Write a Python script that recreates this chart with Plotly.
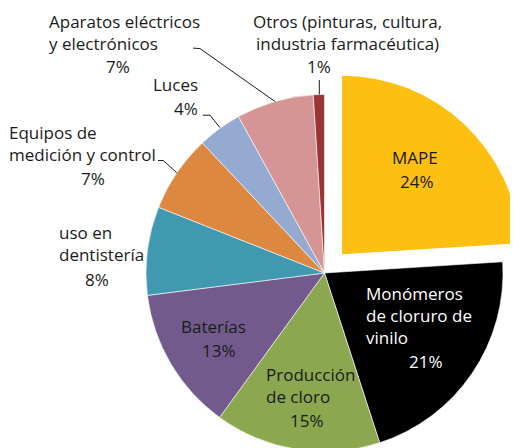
import plotly.graph_objects as go

# ---- data ----
categories = ["MAPE", "Monómeros de cloruro de vinilo", "Producción de cloro", "Baterías",
              "uso en dentistería", "Equipos de medición y control", "Luces",
              "Aparatos eléctricos y electrónicos",
              "Otros (pinturas, cultura, industria farmacéutica)"]
label_lines = [["MAPE"], ["Monómeros", "de cloruro de", "vinilo"], ["Producción", "de cloro"],
               ["Baterías"], ["uso en", "dentistería"], ["Equipos de", "medición y control"],
               ["Luces"], ["Aparatos eléctricos", "y electrónicos"],
               ["Otros (pinturas, cultura,", "industria farmacéutica)"]]
values = [24, 21, 15, 13, 8, 7, 4, 7, 1]
colors = ["#FCBF12", "#000000", "#8BA74F", "#735A8D", "#4099B0", "#DD8841",
          "#94AAD1", "#D69595", "#9B3434"]

W, H = 518, 448
OFF = 8          # page body margin of the viewer: work in window pixels
FONT = "Open Sans"
FS = 17
LINE = 1.3 * FS  # plotly line spacing inside one text
TXT = "#1a1a1a"


def px(x):
    return (x - OFF) / W


def py(y):
    return 1 - (y - OFF) / H


# geometry (window pixels)
cx, cy, r = 324.5, 273.0, 178.5
pcx, pcy = 342.0, 254.3  # centre of the exploded slice

transparent = "rgba(0,0,0,0)"
main_colors = [transparent] + colors[1:]
main_lines = [transparent] + ["white"] * (len(values) - 1)
expl_colors = [colors[0]] + [transparent] * (len(values) - 1)

fig = go.Figure()
fig.add_trace(go.Pie(
    labels=categories, values=values, sort=False, direction="clockwise", rotation=0,
    marker=dict(colors=main_colors, line=dict(color=main_lines, width=0.6)),
    textinfo="none", hoverinfo="skip", showlegend=False,
    domain=dict(x=[px(cx - r), px(cx + r)], y=[max(0, py(cy + r)), py(cy - r)]),
))
fig.add_trace(go.Pie(
    labels=categories, values=values, sort=False, direction="clockwise", rotation=0,
    marker=dict(colors=expl_colors, line=dict(width=0)),
    textinfo="none", hoverinfo="skip", showlegend=False,
    domain=dict(x=[px(pcx - r), min(1, px(pcx + r))], y=[py(pcy + r), py(pcy - r)]),
))

total = sum(values)
pct_text = [f"{round(v / total * 100)}%" for v in values]

# label placement: name x, name baseline (first line), anchor, pct x, pct baseline, colour
place = [
    (415.3, 164.0, "center", 417.0, 187.7, TXT),
    (364.3, 299.3, "left", 426.3, 367.3, "white"),
    (263.5, 381.0, "left", 306.7, 426.7, TXT),
    (213.8, 334.0, "center", 218.5, 356.0, TXT),
    (57.0, 238.3, "left", 97.0, 286.0, TXT),
    (7.0, 141.7, "left", 92.5, 182.7, TXT),
    (200.0, 93.3, "right", 200.0, 113.0, TXT),
    (46.5, 25.0, "left", 117.5, 65.0, TXT),
    (347.0, 24.3, "center", 319.0, 65.0, TXT),
]
ref_spacing = [0, 23.3, 22.3, 0, 23.4, 20.6, 0, 20.0, 20.7]
BASE = 6.5     # baseline sits this far below the middle of a line
GAP = 23.5     # minimum baseline gap so that text boxes do not overlap
TOPMIN = 27.5  # first baseline may not be higher than this (text box inside page)

annotations = []
name_last_b, pct_b = [], []
for i, (nx, nb, anc, qx, qb, col) in enumerate(place):
    n = len(label_lines[i])
    half = (n - 1) * LINE / 2
    mean_b = nb + (n - 1) * ref_spacing[i] / 2
    d = max(0.0, mean_b + half + GAP - qb)
    mean_b -= d / 2
    qb += d / 2
    if mean_b - half < TOPMIN:
        mean_b = TOPMIN + half
        qb = max(qb, mean_b + half + GAP)
    name_last_b.append(mean_b + half)
    pct_b.append(qb)
    annotations.append(dict(
        x=px(nx), y=py(mean_b - BASE), xref="paper", yref="paper",
        text="<br>".join(label_lines[i]),
        showarrow=False, xanchor=anc, yanchor="middle", align=anc,
        font=dict(family=FONT, size=FS, color=col)))
    pct_anchor = "right" if anc == "right" else "center"
    annotations.append(dict(
        x=px(qx), y=py(qb - BASE), xref="paper", yref="paper", text=pct_text[i],
        showarrow=False, xanchor=pct_anchor, yanchor="middle",
        font=dict(family=FONT, size=FS, color=col)))

# leader lines: label index, attached text line, start points (x, dy from baseline), end on slice
leaders = [
    (7, "name", [(193, -1.5), (200, -1.0)], (275, 101.5)),
    (8, "pct", [(319.3, 7.0)], (319.3, 94.5)),
    (6, "pct", [(202.7, 0.3), (210, 0.3)], (220, 127.7)),
    (5, "name", [(158, -0.6), (163.3, -0.6)], (176.7, 172.7)),
]
shapes = []
for idx, kind, starts, end in leaders:
    b = name_last_b[idx] if kind == "name" else pct_b[idx]
    pts = [(x, b + dy) for x, dy in starts] + [end]
    path = "M " + " L ".join(f"{px(x)},{py(y)}" for x, y in pts)
    shapes.append(dict(type="path", path=path, xref="paper", yref="paper",
                       line=dict(color=TXT, width=1)))

fig.update_layout(
    width=W, height=H, margin=dict(l=0, r=0, t=0, b=0),
    paper_bgcolor="white", plot_bgcolor="white",
    annotations=annotations, shapes=shapes,
    font=dict(family=FONT, size=FS),
)

fig.write_html("out.html")
